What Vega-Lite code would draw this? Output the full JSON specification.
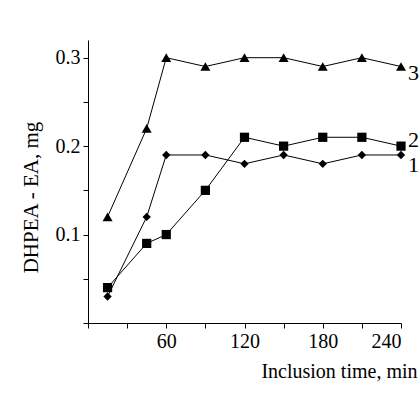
{
  "$schema": "https://vega.github.io/schema/vega-lite/v6.json",
  "autosize": "none",
  "width": 313,
  "height": 283,
  "padding": {"left": 88, "top": 40, "right": 19, "bottom": 70},
  "background": "white",
  "config": {
    "view": {"stroke": null},
    "font": "Liberation Serif",
    "axis": {
      "grid": false,
      "domainColor": "black",
      "tickColor": "black",
      "labelColor": "black",
      "titleColor": "black",
      "labelFont": "Liberation Serif",
      "titleFont": "Liberation Serif",
      "labelFontSize": 20,
      "titleFontSize": 20,
      "titleFontWeight": "normal",
      "tickSize": 5,
      "domainWidth": 1,
      "tickWidth": 1
    }
  },
  "data": {
    "values": [
      {"time": 15, "value": 0.12, "series": "3"},
      {"time": 45, "value": 0.22, "series": "3"},
      {"time": 60, "value": 0.30, "series": "3"},
      {"time": 90, "value": 0.29, "series": "3"},
      {"time": 120, "value": 0.30, "series": "3"},
      {"time": 150, "value": 0.30, "series": "3"},
      {"time": 180, "value": 0.29, "series": "3"},
      {"time": 210, "value": 0.30, "series": "3"},
      {"time": 240, "value": 0.29, "series": "3"},
      {"time": 15, "value": 0.04, "series": "2"},
      {"time": 45, "value": 0.09, "series": "2"},
      {"time": 60, "value": 0.10, "series": "2"},
      {"time": 90, "value": 0.15, "series": "2"},
      {"time": 120, "value": 0.21, "series": "2"},
      {"time": 150, "value": 0.20, "series": "2"},
      {"time": 180, "value": 0.21, "series": "2"},
      {"time": 210, "value": 0.21, "series": "2"},
      {"time": 240, "value": 0.20, "series": "2"},
      {"time": 15, "value": 0.03, "series": "1"},
      {"time": 45, "value": 0.12, "series": "1"},
      {"time": 60, "value": 0.19, "series": "1"},
      {"time": 90, "value": 0.19, "series": "1"},
      {"time": 120, "value": 0.18, "series": "1"},
      {"time": 150, "value": 0.19, "series": "1"},
      {"time": 180, "value": 0.18, "series": "1"},
      {"time": 210, "value": 0.19, "series": "1"},
      {"time": 240, "value": 0.19, "series": "1"}
    ]
  },
  "encoding": {
    "x": {
      "field": "time",
      "type": "quantitative",
      "scale": {"domain": [0, 240], "nice": false, "zero": false},
      "axis": {
        "values": [0, 30, 60, 90, 120, 150, 180, 210, 240],
        "labelExpr": "datum.value > 0 && datum.value % 60 == 0 ? datum.label : ''",
        "labelPadding": 3,
        "title": "Inclusion time, min",
        "titleAnchor": "end",
        "titleAlign": "right",
        "titleBaseline": "alphabetic",
        "titleX": 329,
        "titleY": 54
      }
    },
    "y": {
      "field": "value",
      "type": "quantitative",
      "scale": {"domain": [0, 0.32], "nice": false},
      "axis": {
        "values": [0, 0.05, 0.1, 0.15, 0.2, 0.25, 0.3],
        "labelExpr": "datum.value == 0.1 || datum.value == 0.2 || datum.value == 0.3 ? format(datum.value, '.1f') : ''",
        "labelPadding": 3,
        "title": "DHPEA - EA, mg",
        "titleAngle": -90,
        "titleAlign": "center",
        "titleBaseline": "alphabetic",
        "titleFontSize": 21,
        "titleX": -51,
        "titleY": 157
      }
    }
  },
  "layer": [
    {
      "mark": {"type": "line", "color": "black", "strokeWidth": 1},
      "encoding": {"detail": {"field": "series"}}
    },
    {
      "mark": {"type": "point", "filled": true, "color": "black", "opacity": 1},
      "encoding": {
        "shape": {
          "field": "series",
          "type": "nominal",
          "scale": {"domain": ["1", "2", "3"], "range": ["diamond", "square", "triangle-up"]},
          "legend": null
        },
        "size": {
          "field": "series",
          "type": "nominal",
          "scale": {"domain": ["1", "2", "3"], "range": [70, 100, 95]},
          "legend": null
        }
      }
    },
    {
      "transform": [{"filter": "datum.time == 240 && datum.series == '3'"}],
      "mark": {"type": "text", "align": "left", "baseline": "middle", "dx": 7, "dy": 6, "fontSize": 22, "font": "Liberation Serif", "color": "black"},
      "encoding": {"text": {"field": "series"}}
    },
    {
      "transform": [{"filter": "datum.time == 240 && datum.series == '2'"}],
      "mark": {"type": "text", "align": "left", "baseline": "middle", "dx": 7, "dy": -6, "fontSize": 22, "font": "Liberation Serif", "color": "black"},
      "encoding": {"text": {"field": "series"}}
    },
    {
      "transform": [{"filter": "datum.time == 240 && datum.series == '1'"}],
      "mark": {"type": "text", "align": "left", "baseline": "middle", "dx": 7, "dy": 10, "fontSize": 22, "font": "Liberation Serif", "color": "black"},
      "encoding": {"text": {"field": "series"}}
    }
  ]
}
